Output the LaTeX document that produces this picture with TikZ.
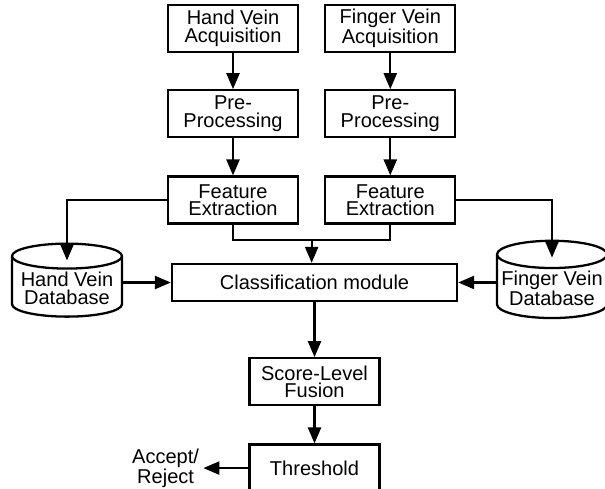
\documentclass[tikz,border=0pt]{standalone}
\usepackage{fontspec}
\setmainfont{Liberation Sans}
\usepackage{tikz}
\usetikzlibrary{shapes.geometric, arrows.meta, positioning, calc}

\begin{document}
\begin{tikzpicture}[
    node distance=0.74cm,
    box/.style={rectangle, draw=black, line width=1.3pt, minimum width=2.6cm,
                minimum height=0.94cm, inner sep=1pt, align=center,
                font=\fontsize{11.4pt}{10pt}\selectfont},
    db/.style={cylinder, shape border rotate=90, draw=black, line width=1.3pt,
               aspect=0.26, minimum width=2.2cm, minimum height=1.46cm,
               inner sep=1pt, align=center, font=\fontsize{11.4pt}{10pt}\selectfont},
    arrow/.style={-{Triangle[length=0.32cm,width=0.26cm]}, line width=1.3pt, black}
]
\clip (0,0) rectangle (12.1,-9.76);

% Acquisition
\node[box] (hacq) at (4.66,-0.57) {Hand Vein\\Acquisition};
\node[box, right=0.5cm of hacq] (facq) {Finger Vein\\Acquisition};

% Pre-processing
\node[box, below=0.72cm of hacq] (hpre) {Pre-\\Processing};
\node[box, below=0.72cm of facq] (fpre) {Pre-\\Processing};

% Features
\node[box, below=0.74cm of hpre] (hfeat) {Feature\\Extraction};
\node[box, below=0.74cm of fpre] (ffeat) {Feature\\Extraction};

% Classification
\node[box, minimum width=5.7cm, minimum height=0.74cm] (cls) at (6.29,-5.65) {Classification module};

% Databases
\node[db] (hdb) at (1.34,-5.77) {Hand Vein\\Database};
\node[db] (fdb) at (11.04,-5.77) {Finger Vein\\Database};

% Fusion
\node[box, below=1.1cm of cls] (score) {Score-Level\\Fusion};
\node[box, below=0.74cm of score] (thr) {Threshold};
\node[align=center, inner sep=0.08cm, font=\fontsize{11.4pt}{10pt}\selectfont,
      left=0.9cm of thr] (acc) {Accept/\\Reject};

% Arrows
\draw[arrow] (hacq) -- (hpre);
\draw[arrow] (facq) -- (fpre);
\draw[arrow] (hpre) -- (hfeat);
\draw[arrow] (fpre) -- (ffeat);

\coordinate (join) at ($(hfeat.south)!0.5!(ffeat.south)+(0,-0.3)$);
\draw[line width=1.3pt] (hfeat.south) |- (join) -| (ffeat.south);
\draw[arrow] (join) -- (join |- cls.north);

\draw[arrow] (hfeat.west) -| ([yshift=-0.36cm]hdb.north);
\draw[arrow] (ffeat.east) -| ([yshift=-0.36cm]fdb.north);
\draw[arrow] (hdb.east |- cls) -- (cls.west);
\draw[arrow] (fdb.west |- cls) -- (cls.east);

\draw[arrow] (cls) -- (score);
\draw[arrow] (score) -- (thr);
\draw[arrow] (thr) -- (acc);

\end{tikzpicture}
\end{document}
